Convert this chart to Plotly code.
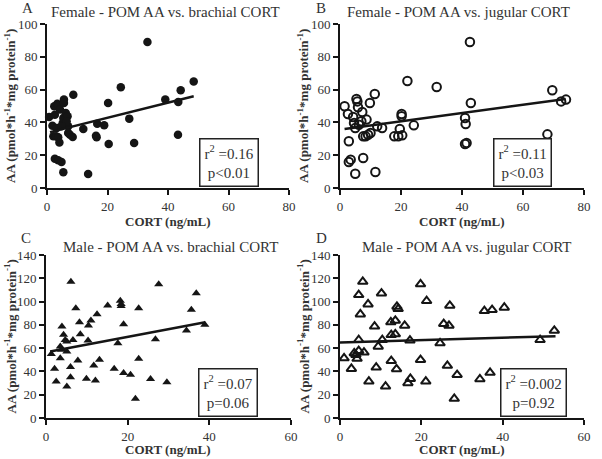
import plotly.graph_objects as go

# Panel A: Female, brachial CORT (filled circles)
a_x = [0.7, 1.8, 2.4, 2.6, 3.4, 3.7, 4.3, 2.1, 3.0, 3.2, 3.7, 4.1, 2.6, 3.7, 4.8, 5.4, 5.2, 5.4, 5.6, 5.6,
       6.2, 6.8, 7.0, 6.5, 7.0, 7.6, 8.5, 8.7, 4.8, 12.0, 13.6, 16.2, 16.6, 16.4, 18.9, 20.2, 20.4, 24.4,
       27.2, 28.8, 33.2, 39.1, 43.4, 43.3, 44.2, 48.5]
a_y = [43.3, 38.0, 49.8, 44.7, 51.4, 50.2, 47.8, 31.5, 31.5, 36.6, 31.0, 27.8, 17.9, 16.9, 15.9, 9.6, 39.6, 42.7,
       53.9, 51.8, 45.7, 43.7, 37.6, 40.7, 33.5, 32.5, 31.1, 56.9, 37.6, 36.0, 8.5, 31.9, 39.2, 30.9, 38.2, 51.8,
       26.8, 61.4, 42.3, 27.4, 89.0, 53.9, 52.4, 32.5, 59.6, 65.0]
a_fit = (33.6, 0.46, 1.0, 48.5)  # intercept, slope, x start, x end

# Panel B: Female, jugular CORT (open circles)
b_x = [1.5, 2.6, 2.9, 2.9, 3.5, 4.3, 4.6, 5.0, 5.0, 5.4, 5.7, 5.9, 6.2, 7.0, 7.3, 7.6, 7.6, 8.4, 8.7, 9.2,
       9.8, 10.0, 11.4, 11.6, 12.2, 13.8, 17.8, 19.1, 19.6, 20.2, 20.2, 20.4, 22.1, 24.2, 31.7, 41.0, 41.2,
       41.0, 41.5, 42.6, 42.9, 68.0, 69.6, 72.5, 74.1]
b_y = [49.8, 45.1, 28.5, 15.9, 17.3, 43.3, 39.6, 36.6, 8.7, 54.3, 52.8, 49.2, 38.6, 40.7, 46.3, 18.3, 31.5,
       31.5, 41.7, 32.5, 51.8, 33.5, 57.3, 9.8, 37.6, 36.6, 31.5, 31.5, 36.0, 45.1, 43.7, 32.1, 65.2, 38.2,
       61.6, 42.7, 39.0, 26.8, 27.4, 89.0, 51.8, 32.7, 59.6, 52.8, 53.9]
b_fit = (35.6, 0.252, 1.5, 74.0)

# Panel C: Male, brachial CORT (filled triangles)
c_x = [1.3, 2.1, 2.5, 3.5, 3.5, 3.8, 3.9, 4.3, 4.7, 5.1, 5.1, 5.1, 6.0, 6.0, 6.1, 6.6, 7.3, 7.8, 8.2, 8.4,
       9.9, 10.3, 10.4, 11.0, 11.7, 12.1, 12.5, 13.1, 15.1, 16.7, 17.6, 18.2, 18.4, 18.4, 19.0, 19.0, 20.7,
       21.9, 22.7, 22.7, 25.6, 26.8, 27.6, 29.6, 34.4, 35.6, 36.8, 38.9]
c_y = [54.9, 42.3, 31.4, 61.4, 51.4, 58.6, 78.6, 71.4, 67.1, 65.7, 57.1, 27.1, 43.7, 35.1, 117.1, 67.1, 94.3,
       49.4, 82.3, 72.0, 33.7, 66.6, 79.4, 83.7, 45.1, 32.3, 89.1, 50.0, 96.6, 42.3, 64.3, 100.6, 96.3, 98.0,
       80.6, 38.6, 37.1, 16.6, 94.3, 50.9, 33.4, 67.7, 114.9, 30.6, 75.1, 92.9, 107.1, 80.0]
c_fit = (56.4, 0.663, 1.0, 39.0)

# Panel D: Male, jugular CORT (open triangles)
d_x = [1.0, 2.8, 3.5, 3.9, 4.2, 4.6, 4.6, 4.6, 5.0, 5.6, 5.9, 6.9, 7.1, 8.5, 8.9, 9.4, 10.2, 10.4, 11.2,
       12.5, 12.6, 12.6, 13.6, 13.6, 13.9, 14.0, 14.3, 15.9, 16.7, 17.2, 17.3, 19.8, 19.8, 21.1, 21.3, 24.6,
       25.5, 26.8, 26.4, 27.0, 28.1, 28.8, 34.4, 35.5, 37.4, 36.9, 40.4, 49.2, 52.7]
d_y = [51.4, 42.3, 55.7, 54.3, 50.9, 105.7, 67.1, 57.7, 89.1, 117.1, 56.3, 97.7, 31.4, 78.6, 43.4, 61.4,
       107.1, 67.1, 27.1, 82.3, 49.1, 71.4, 83.7, 72.0, 42.0, 95.7, 93.7, 79.4, 30.0, 66.6, 33.7, 114.9, 50.0,
       31.4, 100.6, 64.3, 80.9, 79.4, 44.9, 96.6, 16.6, 37.1, 33.4, 92.0, 92.9, 38.9, 94.9, 67.1, 75.1]
d_fit = (64.8, 0.104, 0.0, 53.0)

titles = ["Female - POM AA vs. brachial CORT", "Female - POM AA vs. jugular CORT",
          "Male - POM AA vs. brachial CORT", "Male - POM AA vs. jugular CORT"]
letters = ["A", "B", "C", "D"]
stats = ["r<sup>2</sup> =0.16<br>p<0.01", "r<sup>2</sup> =0.11<br>p<0.03",
         "r<sup>2</sup> =0.07<br>p=0.06", "r<sup>2</sup> =0.002<br>p=0.92"]
x_title = "CORT (ng/mL)"
y_title = "AA (pmol*h<sup>-1</sup>*mg protein<sup>-1</sup>)"
x_ranges = [80, 80, 60, 60]
y_ranges = [100, 100, 140, 140]
tick_step = 20
box_pos = [(60.2, 15.5), (59.8, 15.5), (44.5, 21.5), (47.6, 21.5)]

W, H = 602, 459
FONT = "Liberation Serif, Times New Roman, serif"
TXT = "#333333"
INK = "#151515"
# plot areas in pixels: (left, right, top, bottom)
areas = [(47, 289, 24, 188), (340, 584, 24, 188), (46, 291, 255, 418), (340, 584, 255, 418)]
title_pos = [(165, 12), (458, 12), (171, 247), (467, 247)]
letter_pos = [(27, 8), (321, 8), (26, 238), (321, 238)]
xlab_y = [231, 231, 459, 459]  # bottom edge of the x-axis title text
ylab_x = [10, 303, 10, 303]

fig = go.Figure()
data = [(a_x, a_y, a_fit, "circle", True, 8.5), (b_x, b_y, b_fit, "circle-open", False, 8.5),
        (c_x, c_y, c_fit, "triangle-up", True, 8), (d_x, d_y, d_fit, "triangle-up-open", False, 8.5)]

for i, (xs, ys, fit, sym, filled, msize) in enumerate(data):
    xa = "x" if i == 0 else f"x{i+1}"
    ya = "y" if i == 0 else f"y{i+1}"
    fig.add_trace(go.Scatter(
        x=xs, y=ys, mode="markers", xaxis=xa, yaxis=ya, cliponaxis=False,
        marker=dict(symbol=sym, size=msize, color=INK,
                    line=dict(color=INK, width=2 if not filled else 0)),
        showlegend=False))
    b0, b1, xs0, xs1 = fit
    fig.add_trace(go.Scatter(
        x=[xs0, xs1], y=[b0 + b1 * xs0, b0 + b1 * xs1], mode="lines", xaxis=xa, yaxis=ya,
        cliponaxis=False, line=dict(color=INK, width=2.5), showlegend=False))

    l, r, t, b = areas[i]
    xkey = "xaxis" if i == 0 else f"xaxis{i+1}"
    ykey = "yaxis" if i == 0 else f"yaxis{i+1}"
    axis_common = dict(showgrid=False, zeroline=False, showline=True, linecolor=INK, linewidth=2,
                       ticks="outside", ticklen=5, tickwidth=2, tickcolor=INK,
                       tickfont=dict(family=FONT, size=13, color=TXT), automargin=False)
    fig.layout[xkey] = dict(domain=[l / W, r / W], range=[0, x_ranges[i]], dtick=tick_step,
                            anchor=ya, **axis_common)
    fig.layout[ykey] = dict(domain=[1 - b / H, 1 - t / H], range=[0, y_ranges[i]], dtick=tick_step,
                            anchor=xa, **axis_common)

    tx, ty = title_pos[i]
    fig.add_annotation(x=tx / W, y=1 - ty / H, xref="paper", yref="paper",
                       text=titles[i], showarrow=False, font=dict(family=FONT, size=15, color=TXT),
                       xanchor="center", yanchor="middle")
    lx, ly = letter_pos[i]
    fig.add_annotation(x=lx / W, y=1 - ly / H, xref="paper", yref="paper",
                       text=letters[i], showarrow=False, font=dict(family=FONT, size=15, color=TXT),
                       xanchor="center", yanchor="middle")
    fig.add_annotation(x=(l + r) / 2 / W, y=1 - xlab_y[i] / H, xref="paper", yref="paper",
                       text="<b>" + x_title + "</b>", showarrow=False,
                       font=dict(family=FONT, size=13, color=TXT), xanchor="center", yanchor="bottom")
    fig.add_annotation(x=ylab_x[i] / W, y=1 - (t + b) / 2 / H, xref="paper", yref="paper",
                       text="<b>" + y_title + "</b>", showarrow=False,
                       textangle=-90, font=dict(family=FONT, size=13, color=TXT),
                       xanchor="center", yanchor="middle")
    bx, by = box_pos[i]
    fig.add_annotation(x=bx, y=by, xref=xa, yref=ya, text=stats[i], showarrow=False,
                       font=dict(family=FONT, size=15, color=TXT), bgcolor="white",
                       bordercolor="#222", borderwidth=1.5, borderpad=4, align="center")

fig.update_layout(width=W, height=H, margin=dict(l=0, r=0, t=0, b=0), template="none",
                  paper_bgcolor="white", plot_bgcolor="white", font=dict(family=FONT))
fig.write_html("out.html")
